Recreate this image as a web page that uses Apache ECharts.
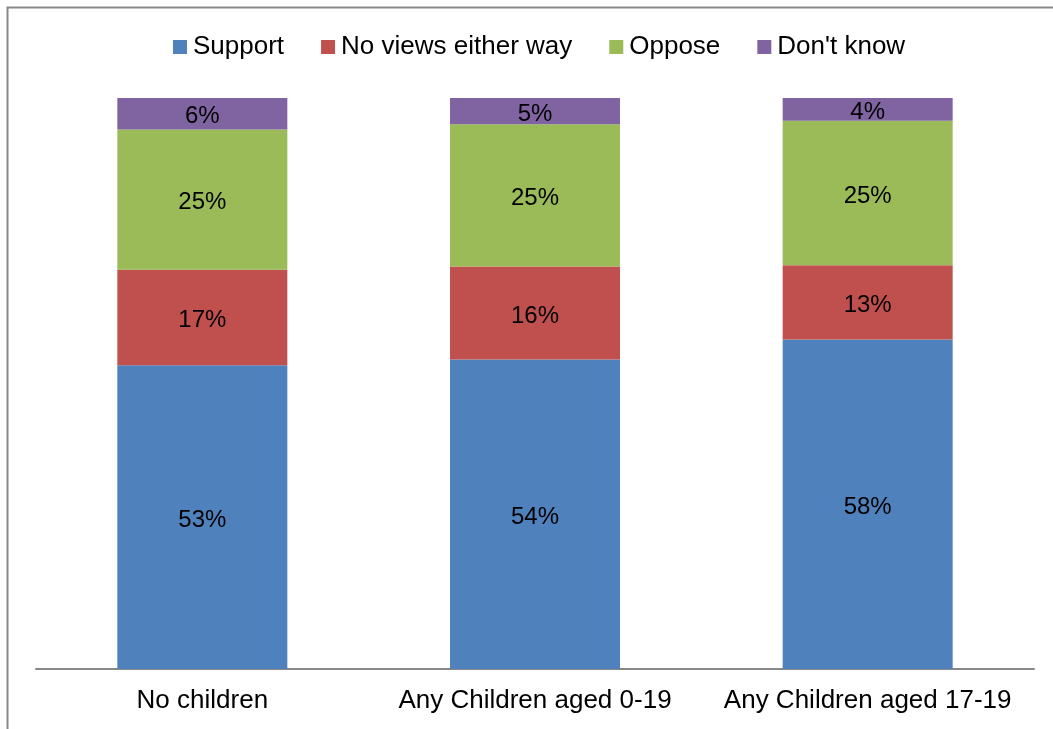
<!DOCTYPE html>
<html><head><meta charset="utf-8">
<script src="https://cdn.jsdelivr.net/npm/echarts@6/dist/echarts.min.js"></script>
<style>html,body{margin:0;padding:0;background:#fff}#c{width:1053px;height:729px}</style>
</head><body><div id="c"></div>
<script>
const categories = ['No children', 'Any Children aged 0-19', 'Any Children aged 17-19'];
const seriesNames = ['Support', 'No views either way', 'Oppose', "Don't know"];
const support = [53.2, 54.2, 57.7];
const noViews = [16.7, 16.3, 13.0];
const oppose = [24.6, 24.9, 25.3];
const dontKnow = [5.5, 4.6, 4.0];
const colors = ['#4F81BD', '#C0504D', '#9BBB59', '#8064A2'];
const values = [support, noViews, oppose, dontKnow];

const chart = echarts.init(document.getElementById('c'));
chart.setOption({
  animation: false,
  backgroundColor: '#fff',
  graphic: [{type: 'rect', shape: {x: 7.5, y: 7.5, width: 1060, height: 740}, style: {fill: 'none', stroke: '#888', lineWidth: 2}, silent: true}],
  legend: {
    top: 29, left: 168, itemWidth: 14, itemHeight: 14, itemGap: 37,
    icon: 'rect',
    textStyle: {fontFamily: 'Liberation Sans, Arial', fontSize: 26, color: '#000', padding: [0, 0, 0, 1]},
    data: seriesNames
  },
  grid: {left: 36, right: 19, top: 98, bottom: 60},
  xAxis: {
    type: 'category', data: categories,
    axisLine: {lineStyle: {color: '#888', width: 2}},
    axisTick: {show: false},
    axisLabel: {interval: 0, fontFamily: 'Liberation Sans, Arial', fontSize: 26, color: '#000', margin: 19}
  },
  yAxis: {type: 'value', min: 0, max: 100, show: false, splitLine: {show: false}},
  series: seriesNames.map((n, i) => ({
    name: n, type: 'bar', stack: 'all', barWidth: 170,
    data: values[i],
    itemStyle: {color: colors[i]},
    label: {show: true, position: 'inside', offset: [0, 3], formatter: p => Math.round(p.value) + '%',
      fontFamily: 'Liberation Sans, Arial', fontSize: 24, color: '#000'}
  }))
});
</script></body></html>
